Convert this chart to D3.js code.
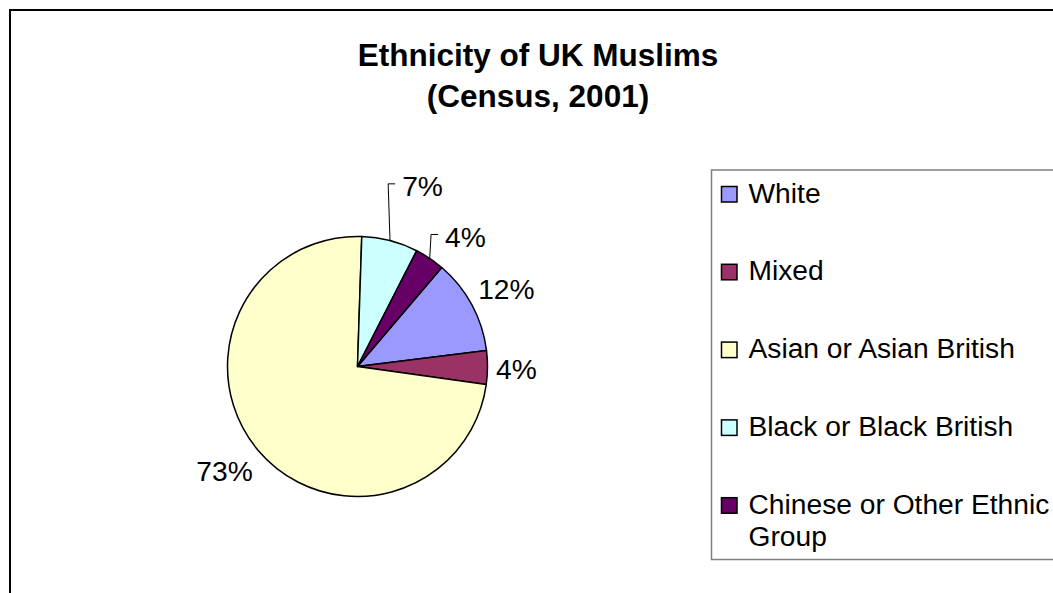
<!DOCTYPE html>
<html>
<head>
<meta charset="utf-8">
<script src="https://cdn.jsdelivr.net/npm/d3@7"></script>
<style>
  html, body { margin: 0; padding: 0; background: #fff; }
  svg { display: block; }
  text { font-family: Arial, "Liberation Sans", sans-serif; fill: #000; }
</style>
</head>
<body>
<svg id="chart" width="1053" height="593"></svg>
<script>
// ---- data ----
const categories = ["White", "Mixed", "Asian or Asian British", "Black or Black British", "Chinese or Other Ethnic Group"];
const values = [11.8, 4.2, 73.3, 7.0, 3.7];
const colors = ["#9999FF", "#993366", "#FFFFCC", "#CCFFFF", "#660066"];
const titleLines = ["Ethnicity of UK Muslims", "(Census, 2001)"];
const legendLines = [["White"], ["Mixed"], ["Asian or Asian British"], ["Black or Black British"], ["Chinese or Other Ethnic", "Group"]];

// ---- layout ----
const W = 1053, H = 593;
const cx = 357.5, cy = 366.5, R = 130;
const startDeg = 40.4;
// label placement per slice: angle (deg from 12 o'clock), radius, leader?
const labelLayout = [
  { angle: 62.4, radius: 168, anchor: "middle", leader: false },
  { angle: 91.0, radius: 159, anchor: "middle", leader: false },
  { angle: 231.9, radius: 169, anchor: "middle", leader: false },
  { angle: 19.8, radius: 192, anchor: "middle", leader: true },
  { angle: 39.7, radius: 169, anchor: "middle", leader: true }
];

const svg = d3.select("#chart");

// outer chart border (extends beyond viewport)
svg.append("rect")
  .attr("x", 10).attr("y", 10)
  .attr("width", W + 50).attr("height", H + 50)
  .attr("fill", "#fff").attr("stroke", "#000").attr("stroke-width", 2);

// title
svg.append("g").selectAll("text").data(titleLines).join("text")
  .attr("x", 538).attr("y", (d, i) => 66 + i * 41)
  .attr("text-anchor", "middle")
  .attr("font-size", 31.5).attr("font-weight", "bold")
  .text(d => d);

// pie
const total = d3.sum(values);
const pie = d3.pie().sort(null)
  .startAngle(startDeg * Math.PI / 180)
  .endAngle(startDeg * Math.PI / 180 + 2 * Math.PI);
const arcs = pie(values);
const arc = d3.arc().innerRadius(0).outerRadius(R);

const g = svg.append("g").attr("transform", `translate(${cx},${cy})`);
g.selectAll("path").data(arcs).join("path")
  .attr("d", arc)
  .attr("fill", (d, i) => colors[i])
  .attr("stroke", "#000").attr("stroke-width", 1.5)
  .attr("stroke-linejoin", "round");

// labels
const fmt = v => Math.floor(v / total * 100 + 0.5) + "%";
const labelFont = 28.2;
arcs.forEach((d, i) => {
  const L = labelLayout[i];
  const a = L.angle * Math.PI / 180;
  const lx = Math.sin(a) * L.radius, ly = -Math.cos(a) * L.radius;
  const t = g.append("text")
    .attr("x", lx).attr("y", ly + labelFont * 0.358)
    .attr("text-anchor", L.anchor)
    .attr("font-size", labelFont)
    .text(fmt(d.value));
  if (L.leader) {
    const bb = t.node().getBBox();
    const left = bb.x;
    const mid = (d.startAngle + d.endAngle) / 2;
    const px = Math.sin(mid) * R, py = -Math.cos(mid) * R;
    const ey = ly - 2;
    g.append("path")
      .attr("d", `M${px},${py} L${left - 14},${ey} L${left - 7},${ey}`)
      .attr("fill", "none").attr("stroke", "#000").attr("stroke-width", 1);
  }
});

// legend
const lg = svg.append("g");
lg.append("rect")
  .attr("x", 711.5).attr("y", 170)
  .attr("width", 400).attr("height", 389.5)
  .attr("fill", "#fff").attr("stroke", "#808080").attr("stroke-width", 1.5);
const legendStep = 77.8, legendBase = 202.5;
categories.forEach((c, i) => {
  const by = legendBase + i * legendStep;
  lg.append("rect")
    .attr("x", 721.5).attr("y", by - 16)
    .attr("width", 15.5).attr("height", 15.5)
    .attr("fill", colors[i]).attr("stroke", "#000").attr("stroke-width", 1.5);
  legendLines[i].forEach((line, j) => {
    lg.append("text")
      .attr("x", 748.5).attr("y", by + j * 32)
      .attr("font-size", labelFont)
      .text(line);
  });
});
</script>
</body>
</html>
